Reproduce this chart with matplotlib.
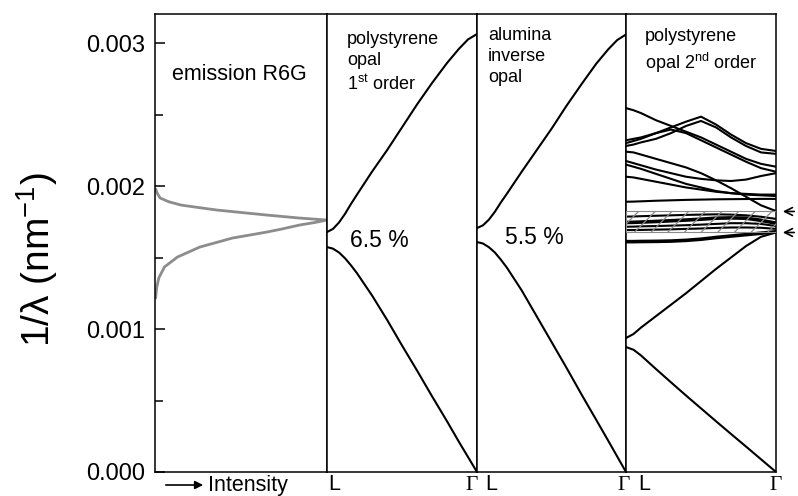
import numpy as np
import matplotlib
matplotlib.use("Agg")
import matplotlib.pyplot as plt

plt.rcParams['font.family'] = ['Liberation Sans', 'DejaVu Sans']
plt.rcParams['mathtext.fontset'] = 'custom'
plt.rcParams['mathtext.rm'] = 'Liberation Sans'
plt.rcParams['mathtext.it'] = 'Liberation Sans:italic'
plt.rcParams['hatch.linewidth'] = 0.9

# ============================================================
# DATA  (frequencies in units of 1e-3 nm^-1, k: 0 = L, 1 = Gamma)
# ============================================================
# emission R6G: 1/lambda vs normalised intensity
em_freq = [1.975, 1.945, 1.916, 1.890, 1.867, 1.850, 1.832, 1.815, 1.797, 1.776, 1.762,
           1.745, 1.727, 1.700, 1.678, 1.636, 1.573, 1.503, 1.434, 1.357, 1.290, 1.220]
em_int = [0.005, 0.015, 0.03, 0.08, 0.15, 0.25, 0.36, 0.50, 0.65, 0.84, 1.0,
          0.93, 0.84, 0.74, 0.65, 0.45, 0.26, 0.13, 0.055, 0.022, 0.01, 0.004]

# polystyrene opal 1st order / alumina inverse opal
k_opal = [0, 0.04, 0.08, 0.12, 0.16, 0.2, 0.3, 0.4, 0.5, 0.6, 0.7, 0.8, 0.88, 0.94, 1.0]
ps_low = [1.573, 1.562, 1.535, 1.495, 1.445, 1.39, 1.235, 1.065, 0.885, 0.71, 0.53, 0.355, 0.21, 0.105, 0.0]
ps_up = [1.678, 1.70, 1.745, 1.805, 1.875, 1.94, 2.10, 2.25, 2.41, 2.57, 2.72, 2.86, 2.96, 3.025, 3.063]
al_low = [1.608, 1.598, 1.572, 1.535, 1.485, 1.43, 1.27, 1.09, 0.91, 0.73, 0.545, 0.365, 0.22, 0.11, 0.0]
al_up = [1.706, 1.725, 1.765, 1.82, 1.885, 1.945, 2.10, 2.25, 2.40, 2.56, 2.71, 2.855, 2.955, 3.02, 3.06]

# polystyrene opal 2nd order
k2 = [0, 0.05, 0.1, 0.2, 0.3, 0.4, 0.5, 0.6, 0.7, 0.8, 0.9, 1.0]
bands2 = [
    [0.874, 0.855, 0.815, 0.72, 0.627, 0.535, 0.445, 0.355, 0.266, 0.178, 0.089, 0.0],
    [0.937, 0.965, 1.01, 1.09, 1.17, 1.25, 1.335, 1.42, 1.50, 1.58, 1.645, 1.675],
    [1.692, 1.692, 1.693, 1.695, 1.697, 1.70, 1.703, 1.707, 1.71, 1.71, 1.708, 1.70],
    [1.715, 1.716, 1.718, 1.72, 1.723, 1.726, 1.73, 1.735, 1.74, 1.74, 1.735, 1.72],
    [1.786, 1.787, 1.789, 1.792, 1.795, 1.798, 1.80, 1.802, 1.80, 1.795, 1.785, 1.77],
    [1.89, 1.891, 1.893, 1.897, 1.90, 1.903, 1.905, 1.907, 1.908, 1.909, 1.91, 1.91],
    [2.24, 2.235, 2.22, 2.19, 2.16, 2.13, 2.09, 2.04, 1.985, 1.925, 1.865, 1.825],
    [2.175, 2.16, 2.145, 2.115, 2.09, 2.065, 2.05, 2.04, 2.035, 2.045, 2.07, 2.09],
    [2.15, 2.135, 2.12, 2.085, 2.05, 2.015, 1.99, 1.965, 1.95, 1.94, 1.935, 1.93],
    [2.065, 2.06, 2.05, 2.03, 2.01, 1.99, 1.975, 1.96, 1.95, 1.945, 1.94, 1.94],
    [2.545, 2.53, 2.51, 2.46, 2.42, 2.38, 2.34, 2.29, 2.24, 2.19, 2.155, 2.135],
    [2.30, 2.315, 2.33, 2.37, 2.41, 2.45, 2.485, 2.43, 2.36, 2.30, 2.26, 2.245],
    [2.32, 2.33, 2.34, 2.37, 2.395, 2.37, 2.32, 2.27, 2.22, 2.17, 2.125, 2.10],
    [2.28, 2.29, 2.305, 2.33, 2.37, 2.42, 2.455, 2.41, 2.34, 2.28, 2.235, 2.225],
]
# thicker (degenerate) bands inside the stop band
bands2_thick = [
    [1.611, 1.611, 1.612, 1.613, 1.615, 1.62, 1.628, 1.64, 1.65, 1.66, 1.67, 1.68],
    [1.745, 1.746, 1.748, 1.752, 1.757, 1.762, 1.768, 1.775, 1.777, 1.775, 1.76, 1.74],
]
stop_band = [1.675, 1.822]
gap_labels = ['6.5 %', '5.5 %']

S = 1e-3

# ============================================================
# FIGURE
# ============================================================
W, H = 798, 496
fig = plt.figure(figsize=(W / 100, H / 100), dpi=100)
edges = [155, 327, 477, 626, 776]
top, bot = 14, 472
axes = []
for i in range(4):
    ax = fig.add_axes([edges[i] / W, 1 - bot / H, (edges[i + 1] - edges[i]) / W, (bot - top) / H])
    ax.set_ylim(0, 3.203 * S)
    ax.set_xlim(0, 1)
    ax.set_xticks([])
    for sp in ax.spines.values():
        sp.set_linewidth(1.1)
    if i > 0:
        ax.tick_params(left=False, labelleft=False)
    axes.append(ax)
ax1, ax2, ax3, ax4 = axes

# --- emission ---
ax1.plot(em_int, np.array(em_freq) * S, color='#8c8c8c', lw=2.0)
ax1.set_yticks([0, 0.001, 0.002, 0.003])
ax1.set_yticklabels(['0.000', '0.001', '0.002', '0.003'])
ax1.set_yticks([0.0005, 0.0015, 0.0025], minor=True)
ax1.tick_params(axis='y', which='both', direction='in', labelsize=17, pad=7)
ax1.tick_params(axis='y', which='major', length=7, width=1.1)
ax1.tick_params(axis='y', which='minor', length=6, width=1.1)
ax1.text(0.099, 0.89, 'emission R6G', transform=ax1.transAxes, fontsize=15.5, va='top')

# --- 1st order bands ---
ax2.plot(k_opal, np.array(ps_low) * S, color='black', lw=1.5)
ax2.plot(k_opal, np.array(ps_up) * S, color='black', lw=1.5)
ax2.text(0.133, 0.962, 'polystyrene\nopal\n1$^{\\mathrm{st}}$ order', transform=ax2.transAxes,
         fontsize=13, va='top', linespacing=1.3)
ax2.text(0.153, 0.53, gap_labels[0], transform=ax2.transAxes, fontsize=16.5, va='top')

ax3.plot(k_opal, np.array(al_low) * S, color='black', lw=1.5)
ax3.plot(k_opal, np.array(al_up) * S, color='black', lw=1.5)
ax3.text(0.074, 0.972, 'alumina\ninverse\nopal', transform=ax3.transAxes,
         fontsize=13, va='top', linespacing=1.3)
ax3.text(0.188, 0.537, gap_labels[1], transform=ax3.transAxes, fontsize=16.5, va='top')

# --- 2nd order bands ---
ax4.axhspan(stop_band[0] * S, stop_band[1] * S, facecolor='none', edgecolor='#8a8a8a',
            hatch='//', lw=0.8, zorder=3)
for b in bands2:
    ax4.plot(k2, np.array(b) * S, color='black', lw=1.5, zorder=2)
for b in bands2_thick:
    ax4.plot(k2, np.array(b) * S, color='black', lw=2.6, zorder=2)
ax4.text(0.127, 0.969, 'polystyrene\nopal 2$^{\\mathrm{nd}}$ order', transform=ax4.transAxes,
         fontsize=13, va='top', linespacing=1.3)
for v in stop_band:
    ax4.annotate('', xy=(1.027, v * S), xycoords=('axes fraction', 'data'),
                 xytext=(1.14, v * S), textcoords=('axes fraction', 'data'),
                 arrowprops=dict(arrowstyle='->', color='black', lw=1.2, mutation_scale=14),
                 annotation_clip=False)

# --- k-point labels (kept inside the canvas) ---
lab_y = 1 - 495.5 / H
kfs = 15.5
tr = fig.transFigure
def kx(ax, frac):
    p = ax.get_position()
    return p.x0 + frac * p.width
fig.text(kx(ax2, 0.005), lab_y, 'L', transform=tr, fontsize=kfs, ha='left', va='bottom')
fig.text(kx(ax2, 1.007), lab_y, 'Γ', transform=tr, fontsize=kfs, ha='right', va='bottom',
         family='Liberation Serif')
fig.text(kx(ax3, 0.054), lab_y, 'L', transform=tr, fontsize=kfs, ha='left', va='bottom')
fig.text(kx(ax3, 1.027), lab_y, 'Γ', transform=tr, fontsize=kfs, ha='right', va='bottom',
         family='Liberation Serif')
fig.text(kx(ax4, 0.08), lab_y, 'L', transform=tr, fontsize=kfs, ha='left', va='bottom')
fig.text(kx(ax4, 1.0), lab_y, 'Γ', transform=tr, fontsize=kfs, ha='center', va='bottom',
         family='Liberation Serif')

# --- intensity arrow and y label ---
fig.text(208 / W, lab_y, 'Intensity', fontsize=kfs, va='bottom', ha='left')
fig.patches.append(matplotlib.patches.FancyArrowPatch(
    (163 / W, 1 - 485 / H), (206 / W, 1 - 485 / H), transform=fig.transFigure,
    arrowstyle='-|>', mutation_scale=12, color='black', lw=1.2))
fig.text(37 / W, 1 - 260 / H, '1/λ (nm$^{\\mathregular{-1}}$)', fontsize=28, rotation=90,
         ha='center', va='center')

fig.savefig('out.png', dpi=100)
